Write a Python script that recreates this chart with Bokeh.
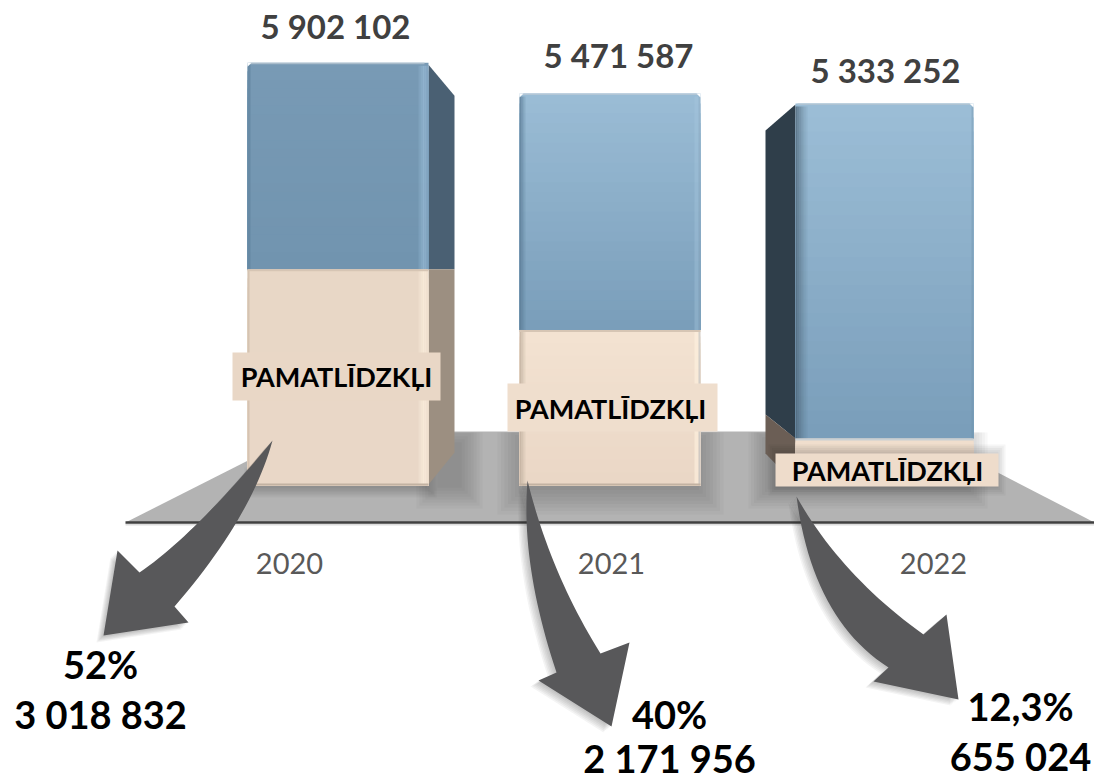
from bokeh.plotting import figure
from bokeh.models import Range1d
from bokeh.core.properties import value
from bokeh.embed import file_html
from bokeh.resources import INLINE

# ---------- chart values ----------
years = ["2020", "2021", "2022"]
totals = [5902102, 5471587, 5333252]
fixed_assets = [3018832, 2171956, 655024]
shares = ["52%", "40%", "12,3%"]
segment_label = "PAMATLĪDZKĻI"

W, H = 1094, 783
BASE_Y = 485            # pixel row of value 0
UNITS_PER_PX = 13960    # value units per pixel
SLOT0, SLOT = 289, 322  # pixel x of category 0, pixels per category

def X(px):  # pixel column -> data x
    return (px - SLOT0) / SLOT
def Y(py):  # pixel row -> data y
    return (BASE_Y - py) * UNITS_PER_PX
def PY(v):  # data value -> pixel row
    return BASE_Y - v / UNITS_PER_PX

p = figure(width=W, height=H, output_backend="svg", toolbar_location=None,
           x_range=Range1d(X(0), X(W)), y_range=Range1d(Y(H), Y(0)),
           x_axis_location=None, y_axis_location=None, min_border=0,
           background_fill_color="white", border_fill_color="white",
           outline_line_color=None)
p.grid.visible = False

def poly(pts, color, alpha=1.0):
    p.patch([X(a) for a, b in pts], [Y(b) for a, b in pts], fill_color=color,
            fill_alpha=alpha, line_color=None)

def box(x0, x1, y0, y1, color, alpha=1.0):
    poly([(x0, y0), (x1, y0), (x1, y1), (x0, y1)], color, alpha)

def lerp(c0, c1, t):
    return "#%02x%02x%02x" % tuple(round(a + (b - a) * t) for a, b in zip(c0, c1))

def grad_bar(x0, x1, v_top, v_bot, c_top, c_bot, n=24):
    """vertical gradient from overlapping slices running down to the segment's base"""
    for i in range(n):
        t = i / (n - 1)
        v = v_top + (v_bot - v_top) * i / n
        p.quad(left=X(x0), right=X(x1), top=v, bottom=v_bot,
               fill_color=lerp(c_top, c_bot, t), line_color=None)

def soft(x0, x1, y0, y1, spread=16, steps=8, alpha=0.03, color="#202020"):
    for k in range(steps):
        d = spread * (steps - k) / steps
        box(x0 - d, x1 + d, max(432, y0 - d), min(521, y1 + d), color, alpha)

def corner(x, y, dx):
    poly([(x, y), (x + dx, y), (x, y + 4)], "#ffffff")

def bez(a, c, b, n=24):
    pts = []
    for i in range(n + 1):
        t = i / n
        pts.append(((1-t)**2*a[0] + 2*t*(1-t)*c[0] + t*t*b[0],
                    (1-t)**2*a[1] + 2*t*(1-t)*c[1] + t*t*b[1]))
    return pts

def arrow(start, c1, neck1, barb1, tip, barb2, neck2, c2, sdx, sdy):
    pts = bez(start, c1, neck1) + [barb1, tip, barb2] + bez(neck2, c2, start)
    for k in range(6, 0, -1):
        poly([(a + sdx * k / 6, b + sdy * k / 6) for a, b in pts], "#303030", 0.05)
    poly(pts, "#58585a")

# ---------- floor ----------
poly([(125, 522), (305, 431), (918, 431), (1094, 522)], "#b3b3b3")
soft(440, 458, 445, 484, spread=24)
soft(255, 425, 478, 486, spread=11)
soft(525, 695, 445, 486, spread=28)
soft(770, 965, 445, 486, spread=22)
box(125, 1094, 523, 525, "#c8c8c8", 0.6)
p.line([X(125), X(1094)], [Y(522), Y(522)], line_color="#404040", line_width=2.5)

# ---------- 2020: side on the right ----------
v_t, v_f = totals[0], fixed_assets[0]
poly([(428, PY(v_t) + 2), (454, PY(v_t) + 33), (454, PY(v_f)), (428, PY(v_f))], "#4a6073")
poly([(428, PY(v_f)), (454, PY(v_f)), (454, 452), (428, 484)], "#9c8f81")
grad_bar(247, 428, v_t, v_f, (120, 154, 181), (113, 148, 175))
grad_bar(247, 428, v_f, 0, (232, 215, 198), (233, 215, 199))
for k, a in enumerate([0.25, 0.45, 0.65, 0.55, 0.35]):
    box(418 + 2 * k, 420 + 2 * k, PY(v_t) + 3, PY(v_f), "#9cc0da", a)
    box(418 + 2 * k, 420 + 2 * k, PY(v_f), 484, "#fff3e2", a)
box(247, 250, PY(v_t) + 2, PY(v_f), "#5f829d", 0.6)
box(247, 249, PY(v_f), BASE_Y, "#cdbba9", 0.7)
box(249, 424, PY(v_t), PY(v_t) + 1.5, "#a9bccb")
box(247, 428, PY(v_f), PY(v_f) + 2, "#d6c5b4")
box(247, 428, BASE_Y - 2, BASE_Y, "#c2b2a2")
corner(247, PY(v_t), 4)

# ---------- 2021: seen from the front ----------
v_t, v_f = totals[1], fixed_assets[1]
grad_bar(519, 700, v_t, v_f, (154, 188, 213), (122, 158, 186))
grad_bar(519, 700, v_f, 0, (243, 226, 209), (234, 215, 198))
for k, a in enumerate([0.7, 0.45, 0.2]):
    box(519 + 2 * k, 521 + 2 * k, PY(v_t) + 3, PY(v_f), "#557690", a)
    box(519 + 2 * k, 521 + 2 * k, PY(v_f), BASE_Y, "#b9a897", a)
box(521, 698, PY(v_t), PY(v_t) + 1.5, "#b2c6d6")
box(694, 698, PY(v_t) + 3, PY(v_f), "#a9c9e0", 0.35)
box(694, 698, PY(v_f), 484, "#fff1e0", 0.6)
box(698, 700, PY(v_t) + 3, BASE_Y, "#8fa6b8", 0.3)
box(519, 700, PY(v_f), PY(v_f) + 2, "#d6c5b4")
box(519, 700, BASE_Y - 2, BASE_Y, "#c2b2a2")
corner(519, PY(v_t), 4)
poly([(700, PY(v_t)), (696, PY(v_t)), (700, PY(v_t) + 4)], "#ffffff")

# ---------- 2022: side on the left ----------
v_t, v_f = totals[2], fixed_assets[2]
poly([(795, PY(v_t) + 1), (765, PY(v_t) + 27), (765, PY(v_f) - 24), (795, PY(v_f))], "#2f3e4a")
poly([(765, PY(v_f) - 24), (795, PY(v_f)), (795, 484), (765, 453)], "#6b5e55")
grad_bar(795, 973, v_t, v_f, (155, 189, 214), (122, 158, 186))
grad_bar(795, 973, v_f, 0, (240, 222, 205), (238, 220, 203))
for k, a in enumerate([0.65, 0.5, 0.38, 0.26, 0.15, 0.08]):
    box(795 + 2 * k, 797 + 2 * k, PY(v_t) + 3, PY(v_f), "#3f5566", a)
box(797, 971, PY(v_t), PY(v_t) + 1.5, "#aec3d3")
box(971, 973, PY(v_t) + 3, PY(v_f), "#6e90aa", 0.4)
box(795, 973, PY(v_f), PY(v_f) + 2, "#c9d0d4")
poly([(973, PY(v_t)), (969, PY(v_t)), (973, PY(v_t) + 4)], "#ffffff")

# ---------- segment labels ----------
label_boxes = [(232, 440, 352, 400, "#e9d7c6"), (507, 717, 383, 431, "#efdecd"),
               (775, 998, 453, 486, "#eedccb")]
soft(777, 996, 453, 486, spread=9, steps=5, alpha=0.04)
for (x0, x1, y0, y1, c) in label_boxes:
    box(x0, x1, y0, y1, c)
p.text([X(336), X(610), X(887)], [Y(376), Y(407.5), Y(469.5)],
       text=[segment_label] * 3, text_font=value("Lato"), text_font_style="bold",
       text_font_size="27px", text_color="#000000", text_align="center",
       text_baseline="middle")

# ---------- arrows ----------
arrow((272, 440), (194.5, 534), (139, 572), (117, 550), (103, 635), (188, 622),
      (174, 606), (251, 517), -7, 7)
arrow((527, 480), (550, 573), (600, 653), (629, 642), (611, 726), (538, 680),
      (556, 672), (520, 564), -8, 6)
arrow((796, 496), (840.5, 575), (923, 634), (946, 614), (958, 699), (873, 681),
      (888, 667), (812, 618.5), -8, 6)

# ---------- texts ----------
fmt = lambda v: f"{v:,}".replace(",", " ")
p.text([X(335), X(618), X(885)], [Y(25), Y(54), Y(69)], text=[fmt(v) for v in totals],
       text_font=value("Lato"), text_font_style="bold", text_font_size="33px",
       text_color="#404040", text_align="center", text_baseline="middle")
p.text(list(range(len(years))), [Y(563)] * 3, text=years, text_font=value("Lato"),
       text_font_size="29px", text_color="#595959", text_align="center",
       text_baseline="middle")
p.text([X(100), X(669), X(1020)], [Y(663), Y(713), Y(705)], text=shares,
       text_font=value("Lato"), text_font_style="bold", text_font_size="38px",
       text_color="#000000", text_align="center", text_baseline="middle")
p.text([X(100), X(669), X(1020)], [Y(713), Y(757), Y(755)], text=[fmt(v) for v in fixed_assets],
       text_font=value("Lato"), text_font_style="bold", text_font_size="38px",
       text_color="#000000", text_align="center", text_baseline="middle")

open("out.html", "w").write(file_html(p, INLINE))
